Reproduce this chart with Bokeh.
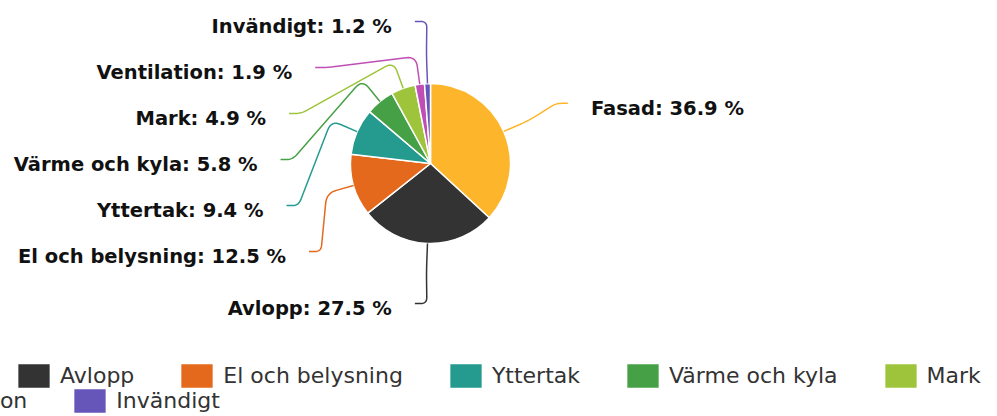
import math
from bokeh.plotting import figure
from bokeh.models import Legend, LegendItem, Range1d
from bokeh.embed import file_html
from bokeh.resources import INLINE
from bokeh.core.properties import value

# ---------------- data ----------------
categories = ["Fasad", "Avlopp", "El och belysning", "Yttertak",
              "Värme och kyla", "Mark", "Ventilation", "Invändigt"]
shares = [36.9, 27.5, 12.5, 9.4, 5.8, 4.9, 1.9, 1.2]
colors = ["#FDB62B", "#333333", "#E4691C", "#259B8F",
          "#46A146", "#9EC43B", "#C04EB4", "#6656B9"]

# ---------------- layout ----------------
W, H = 997, 416
CX, CY = 430, 163          # pie centre (pixels, y down)
R = 80                     # pie radius
R_BEND = 108               # connector bend radius
R_LABEL = 150              # label circle radius
LABEL_TOP, LABEL_STEP, LABEL_BOTTOM = 21, 46, 303
LEGEND_ROW1_X, LEGEND_ROW2_X = -139, -137
LEGEND_SPACING = 42
LABEL_FONT = "DejaVu Sans"
LEGEND_FONT = "DejaVu Sans"

p = figure(width=W, height=H, x_range=Range1d(0, W), y_range=Range1d(0, H),
           output_backend="svg", toolbar_location=None, min_border=0)
p.axis.visible = False
p.grid.visible = False
p.outline_line_color = None
p.background_fill_color = "white"

total = sum(shares)
starts, ends, mids = [], [], []
cum = 0.0
for v in shares:
    f0 = cum / total
    cum += v
    f1 = cum / total
    starts.append(math.pi / 2 - 2 * math.pi * f0)
    ends.append(math.pi / 2 - 2 * math.pi * f1)
    mids.append(2 * math.pi * (f0 + f1) / 2)   # clockwise from top

wedges = p.wedge(x=[CX] * len(shares), y=[H - CY] * len(shares), radius=R,
                 start_angle=starts, end_angle=ends, direction="clock",
                 fill_color=colors, line_color="white", line_width=1.5)

def polar(r, th):
    return (CX + r * math.sin(th), CY - r * math.cos(th))

# label anchor points
anchors = {}
left = [i for i in range(len(shares)) if mids[i] > math.pi]
right = [i for i in range(len(shares)) if mids[i] <= math.pi]
left.sort(key=lambda i: polar(R_LABEL, mids[i])[1])
n = len(left)
for k, i in enumerate(left):
    y = LABEL_BOTTOM if k == n - 1 else LABEL_TOP + LABEL_STEP * k
    if k == 0 or k == n - 1:
        x = polar(R_LABEL, mids[i])[0] - 10
    else:
        dy = y - CY
        x = CX - math.sqrt(max(R_LABEL ** 2 - dy ** 2, 0))
    anchors[i] = (x, y, -1)
for i in right:
    nx, ny = polar(R_LABEL, mids[i])
    dy = ny - CY
    anchors[i] = (CX + math.sqrt(max(R_LABEL ** 2 - dy ** 2, 0)), ny, 1)

def rounded(pts, rc=10, steps=8):
    out = [pts[0]]
    for j in range(1, len(pts) - 1):
        P, V, N = pts[j - 1], pts[j], pts[j + 1]
        d1 = math.hypot(P[0] - V[0], P[1] - V[1])
        d2 = math.hypot(N[0] - V[0], N[1] - V[1])
        r = min(rc, d1 / 2, d2 / 2)
        if r <= 0:
            out.append(V)
            continue
        A = (V[0] + (P[0] - V[0]) * r / d1, V[1] + (P[1] - V[1]) * r / d1)
        D = (V[0] + (N[0] - V[0]) * r / d2, V[1] + (N[1] - V[1]) * r / d2)
        for s in range(steps + 1):
            t = s / steps
            x = (1 - t) ** 2 * A[0] + 2 * (1 - t) * t * V[0] + t ** 2 * D[0]
            y = (1 - t) ** 2 * A[1] + 2 * (1 - t) * t * V[1] + t ** 2 * D[1]
            out.append((x, y))
    out.append(pts[-1])
    return out

xs, ys, lc = [], [], []
tx, ty, tt, ta = [], [], [], []
for i in range(len(shares)):
    lx, ly, side = anchors[i]
    E = polar(R, mids[i])
    B = polar(R_BEND, mids[i])
    C = (lx - side * 12, ly)
    pts = rounded([E, B, C, (lx, ly)])
    xs.append([q[0] for q in pts])
    ys.append([H - q[1] for q in pts])
    lc.append(colors[i])
    tx.append(lx + side * 23)
    ty.append(H - (ly + 5))
    tt.append(f"{categories[i]}: {shares[i]:.1f} %")
    ta.append("left" if side > 0 else "right")

p.multi_line(xs=xs, ys=ys, line_color=lc, line_width=1.5)
p.text(x=tx, y=ty, text=tt, text_align=ta, text_baseline="middle",
       text_font=value(LABEL_FONT), text_font_style="bold",
       text_font_size="19.5px", text_color="#111111")

def make_legend(idx, xleft, ybottom):
    lg = Legend(items=[LegendItem(label=categories[i], renderers=[wedges], index=i) for i in idx],
                orientation="horizontal", location=(xleft, ybottom),
                glyph_width=41, glyph_height=31, label_standoff=6, spacing=LEGEND_SPACING,
                padding=0, margin=0, border_line_color=None,
                background_fill_alpha=0, label_text_font=LEGEND_FONT,
                label_text_font_size="22px", label_text_color="#333333",
                label_text_baseline="middle")
    p.add_layout(lg)

make_legend(range(0, 6), LEGEND_ROW1_X, 25)
make_legend(range(6, 8), LEGEND_ROW2_X, 0)

open("out.html", "w").write(file_html(p, INLINE))
